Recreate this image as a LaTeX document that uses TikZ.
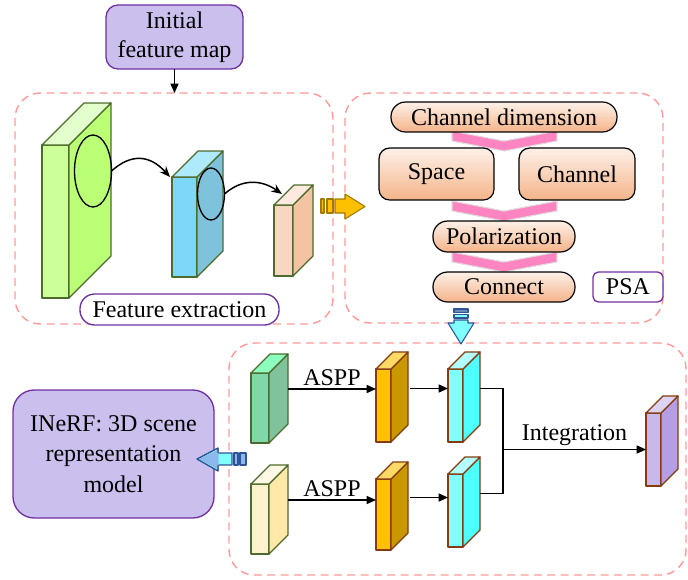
\documentclass[tikz,border=0pt]{standalone}
\usepackage{fontspec}
\setmainfont{Liberation Serif}
\usetikzlibrary{arrows.meta,calc,fit,shapes.geometric}

\definecolor{lav}{HTML}{CBBFEE}
\definecolor{purp}{HTML}{7030A0}
\definecolor{dashpink}{HTML}{FF9B9B}
\definecolor{peachT}{HTML}{FDF0E7}
\definecolor{peachB}{HTML}{F4B58B}
\definecolor{chevpink}{HTML}{FF85C2}
\definecolor{olive}{HTML}{4E6B2E}
\definecolor{brownL}{HTML}{843C0C}
\definecolor{arrblue}{HTML}{2F5597}
\definecolor{headblue}{HTML}{8DB8EC}
% cuboid colour schemes: F front, S side, T top, L outline
\definecolor{limeF}{HTML}{CCFF99}\definecolor{limeS}{HTML}{BBFF77}\definecolor{limeT}{HTML}{E2FFCC}\colorlet{limeL}{olive}
\definecolor{skyF}{HTML}{7FD7F7}\definecolor{skyS}{HTML}{7FC2DC}\definecolor{skyT}{HTML}{AEE9FC}\colorlet{skyL}{olive}
\definecolor{apriF}{HTML}{F8D6C0}\definecolor{apriS}{HTML}{F4C3A1}\definecolor{apriT}{HTML}{FDE9DD}\colorlet{apriL}{olive}
\definecolor{mintF}{HTML}{80D8A8}\definecolor{mintS}{HTML}{80C29C}\definecolor{mintT}{HTML}{8CFFBF}\colorlet{mintL}{olive}
\definecolor{creamF}{HTML}{FFF2CC}\definecolor{creamS}{HTML}{FFE8A8}\definecolor{creamT}{HTML}{FFF8E5}\colorlet{creamL}{olive}
\definecolor{goldF}{HTML}{FFC000}\definecolor{goldS}{HTML}{C99700}\definecolor{goldT}{HTML}{FFD966}\colorlet{goldL}{brownL}
\definecolor{aquaF}{HTML}{80FFFF}\definecolor{aquaS}{HTML}{4DFFFF}\definecolor{aquaT}{HTML}{B3FFFF}\colorlet{aquaL}{brownL}
\definecolor{lilaF}{HTML}{C9B8EC}\definecolor{lilaS}{HTML}{B49EE6}\definecolor{lilaT}{HTML}{DDD3F5}\colorlet{lilaL}{brownL}

\newcommand{\figtext}{\fontsize{18pt}{22pt}\selectfont}

% \cuboid{name}{x1}{y1}{x2}{y2}{depth}{scheme}
\newcommand{\cuboid}[7]{%
  \node[cubeface, draw=#7L, fill=#7F, fit={(#2,#3)(#4,#5)}] (#1) {};
  \filldraw[cubeface, draw=#7L, fill=#7S] (#1.north east) -- ++(#6,-#6)
     -- ($(#1.south east)+(#6,-#6)$) -- (#1.south east) -- cycle;
  \filldraw[cubeface, draw=#7L, fill=#7T] (#1.north west) -- ++(#6,-#6)
     -- ($(#1.north east)+(#6,-#6)$) -- (#1.north east) -- cycle;
}

% \gradbox{name}{x1}{y1}{x2}{y2}{corner radius}: peach box, light at top, darker below
\newcommand{\gradbox}[6]{%
  \node[inner sep=0pt, outer sep=0pt, fit={(#2,#3)(#4,#5)}] (#1) {};
  \begin{scope}
    \clip[rounded corners=#6] (#1.south west) rectangle (#1.north east);
    \foreach \i in {0,...,23}{%
      \pgfmathtruncatemacro\mixpc{\i*100/23}%
      \fill[peachB!\mixpc!peachT]
        ($(#1.north west)!\i/24!(#1.south west)$) rectangle
        ($(#1.north east)!{min(1,(\i+1.4)/24)}!(#1.south east)$);
    }
  \end{scope}
  \draw[line width=0.9pt, rounded corners=#6] (#1.south west) rectangle (#1.north east);
}

\begin{document}
\begin{tikzpicture}[x=0.75pt, y=-0.75pt,
  cubeface/.style={inner sep=0pt, outer sep=0pt, line width=1pt, line join=round},
  dbox/.style={inner sep=0pt, outer sep=0pt, draw=dashpink, dash pattern=on 6pt off 4pt,
    line width=1.1pt, rounded corners=19pt},
  lavbox/.style={inner sep=0pt, outer sep=0pt, draw=purp, fill=lav, line width=1pt},
  tagbox/.style={inner sep=0pt, outer sep=0pt, draw=purp, fill=white, line width=1pt},
  chev/.style={fill=chevpink, draw=gray!25, line width=0.8pt, line join=round},
  ring/.style={ellipse, draw=black, line width=1pt, inner sep=0pt, outer sep=0pt},
  carr/.style={line width=1.1pt, -{Stealth[length=8pt,width=6.5pt]}},
  conn/.style={line width=1.1pt, -{Triangle[length=7pt,width=6pt]}},
  wire/.style={line width=1.1pt},
  lbl/.style={font=\figtext, inner sep=2pt, align=center},
  yarrow/.style={fill=goldF, draw=goldS!80!black, line width=0.8pt, line join=round},
  barrow/.style={draw=arrblue, line width=0.8pt, line join=round}
]
\useasboundingbox (0,0) rectangle (688,579);

% ---------- dashed group frames ----------
\node[dbox, fit={(15,93)(333,324)}] (fe) {};
\node[dbox, fit={(345,93)(663,323)}] (psa) {};
\node[dbox, fit={(229,343)(686,575)}] (fus) {};

% ---------- input ----------
\node[lavbox, rounded corners=9pt, fit={(106,5)(243,69)}] (init) {};
\node[lbl] (init-t) at (init.center) {Initial\\feature map};
\draw[conn] (init.south) -- (init.south |- fe.north);

% ---------- feature extraction ----------
\cuboid{gbig}{42}{145}{69}{298}{42}{lime}
\node[ring, minimum width=27.75pt, minimum height=54pt] (e1) at (93,171) {};
\cuboid{blu}{172}{177}{197}{277}{26}{sky}
\node[ring, minimum width=20.25pt, minimum height=39pt] (e2) at (211,194) {};
\cuboid{pch}{274}{205}{293}{276}{20}{apri}
\draw[carr] (e1.east) .. controls +(20,-18) and +(-20,-22) .. ($(blu.north west)+(-2,0)$);
\draw[carr] (e2.east) .. controls +(18,-16) and +(-20,-14) .. ($(pch.north west)+(8,-11)$);
\node[tagbox, rounded corners=11pt, fit={(80,294)(279,325)}] (fetag) {};
\node[lbl] (fetag-t) at (fetag.center) {Feature extraction};

% ---------- striped arrow into PSA ----------
\filldraw[yarrow] (321,199) rectangle (324,213);
\filldraw[yarrow] (327,199) rectangle (333,213);
\filldraw[yarrow] (335,199) -- (345,199) -- (345,194) -- (365,206.5) -- (345,219)
  -- (345,213) -- (335,213) -- cycle;

% ---------- PSA ----------
\filldraw[chev] (452,131) -- (504,141) -- (557,131) -- (557,141) -- (504,151) -- (452,141) -- cycle;
\filldraw[chev] (452,201) -- (504,211) -- (557,201) -- (557,211) -- (504,221) -- (452,211) -- cycle;
\filldraw[chev] (452,252) -- (504,262) -- (557,252) -- (557,262) -- (504,272) -- (452,262) -- cycle;
\gradbox{cdim}{391}{102}{617}{132}{11pt}
\gradbox{spc}{379}{148}{494}{200}{8pt}
\gradbox{chn}{519}{148}{635}{200}{8pt}
\gradbox{pol}{433}{221}{575}{252}{11pt}
\gradbox{con}{433}{272}{575}{302}{11pt}
\node[tagbox, rounded corners=4pt, fit={(593,272)(663,302)}] (psatag) {};
\node[lbl] (cdim-t) at (cdim.center) {Channel dimension};
\node[lbl] (spc-t) at (spc.center) {Space};
\node[lbl] (chn-t) at (chn.center) {Channel};
\node[lbl] (pol-t) at (pol.center) {Polarization};
\node[lbl] (con-t) at (con.center) {Connect};
\node[lbl] (psatag-t) at (psatag.center) {PSA};

% ---------- striped arrow down to fusion ----------
\filldraw[barrow, fill=arrblue!70!white] (454,309) rectangle (468,312.5);
\filldraw[barrow, fill=aquaF] (454,314.5) rectangle (468,318);
\filldraw[barrow, fill=aquaF] (454,320) -- (468,320) -- (468,323) -- (474,323) -- (461,344)
  -- (448,323) -- (454,323) -- cycle;

% ---------- fusion branch ----------
\cuboid{g1}{251}{373}{269}{443}{19}{mint}
\cuboid{y1}{251}{484}{269}{554}{19}{cream}
\cuboid{o1}{376}{369}{391}{442}{17}{gold}
\cuboid{o2}{376}{479}{391}{550}{17}{gold}
\cuboid{c1}{448}{369}{463}{442}{17}{aqua}
\cuboid{c2}{448}{474}{463}{547}{17}{aqua}
\cuboid{pr}{646}{413}{661}{486}{17}{lila}

\coordinate (g1s) at ($(g1.east)+(19,-19)$);
\coordinate (y1s) at ($(y1.east)+(19,-19)$);
\coordinate (o1s) at ($(o1.east)+(19,-17)$);
\coordinate (o2s) at ($(o2.east)+(19,-17)$);
\coordinate (c1s) at ($(c1.east)+(17,-17)$);
\coordinate (c2s) at ($(c2.east)+(17,-17)$);
\coordinate (jn) at (503,449.5);

\draw[conn] (g1s) -- (g1s -| o1.west) node[midway, above, lbl] (aspp1) {ASPP};
\draw[conn] (y1s) -- (y1s -| o2.west) node[midway, above, lbl] (aspp2) {ASPP};
\draw[conn] (o1s) -- (o1s -| c1.west);
\draw[conn] (o2s) -- (o2s -| c2.west);
\draw[wire] (c1s) -| (jn) |- (c2s);
\draw[conn] (jn) -- (pr.west) node[midway, above, lbl] (integ) {Integration};

% ---------- output model ----------
\node[lavbox, rounded corners=16pt, fit={(13,390)(214,518)}] (nerf) {};
\node[lbl, font=\fontsize{18pt}{23pt}\selectfont] (nerf-t) at (nerf.center)
  {INeRF: 3D scene\\representation\\model};
\filldraw[barrow, fill=aquaF] (232,453) -- (218,453)
  -- (218,448) -- (197,459) -- (218,471) -- (218,465) -- (232,465) -- cycle;
\fill[headblue] (218.6,449.4) -- (199,459) -- (218.6,469.6) -- cycle;
\draw[barrow] (218,453) -- (218,448) -- (197,459) -- (218,471) -- (218,465);
\filldraw[barrow, fill=headblue] (234,453) rectangle (238,465);
\filldraw[barrow, fill=headblue] (240,453) rectangle (246,465);
\end{tikzpicture}
\end{document}
